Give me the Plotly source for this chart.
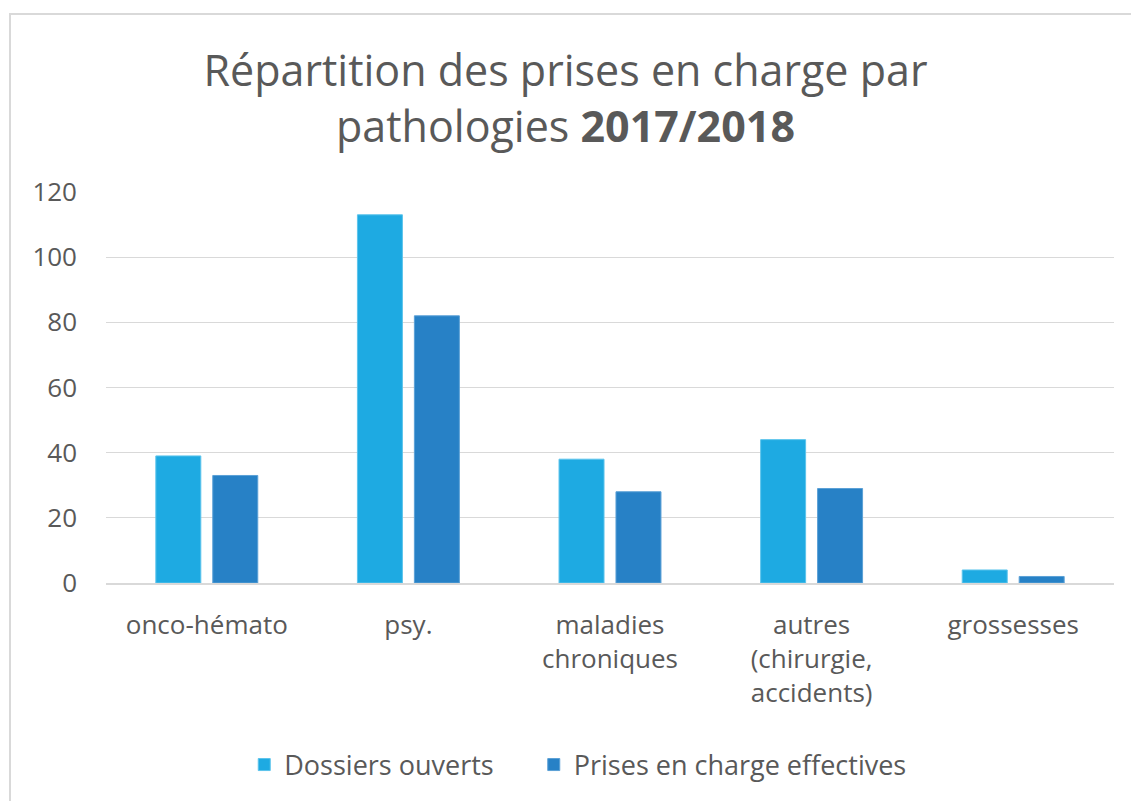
import plotly.graph_objects as go

categories = ["onco-hémato", "psy.", "maladies<br>chroniques", "autres<br>(chirurgie,<br>accidents)", "grossesses"]
dossiers_ouverts = [39, 113, 38, 44, 4]
prises_effectives = [33, 82, 28, 29, 2]
series_names = ["Dossiers ouverts", "Prises en charge effectives"]
y_ticks = [0, 20, 40, 60, 80, 100, 120]

FONT = "Open Sans"
GREY = "#595959"
PAD = "\u00a0" * 5

fig = go.Figure()
fig.add_trace(go.Bar(x=categories, y=dossiers_ouverts, name=series_names[0] + PAD,
                     marker=dict(color="#1EAAE2", line=dict(color="#5CC4EC", width=1))))
fig.add_trace(go.Bar(x=categories, y=prises_effectives, name=series_names[1],
                     marker=dict(color="#2781C6", line=dict(color="#5BA0D6", width=1))))

L, R, T, B = 106, 17, 192, 218
W, H = 1131, 801
pw, ph = W - L - R, H - T - B

fig.update_layout(
    width=W, height=H,
    margin=dict(l=L, r=R, t=T, b=B),
    paper_bgcolor="white", plot_bgcolor="white",
    barmode="group", bargap=0.435, bargroupgap=0.21,
    font=dict(family=FONT, color=GREY),
    title=dict(text="Répartition des prises en charge par<br>pathologies <b>2017/2018</b>",
               x=0.5, xanchor="center", y=(H - 86) / H, yanchor="middle",
               font=dict(size=43, color=GREY, family=FONT)),
    xaxis=dict(tickfont=dict(size=26, color=GREY), showline=True, linecolor="#D9D9D9",
               linewidth=2, ticks="", showgrid=False, ticklabelstandoff=18),
    yaxis=dict(range=[0, 120], tickvals=y_ticks, tickfont=dict(size=26, color=GREY),
               showgrid=True, gridcolor="#D9D9D9", gridwidth=1, zeroline=False,
               ticks="", showline=False, ticklabelstandoff=28),
    legend=dict(orientation="h", x=0.468, xanchor="center", y=-(765 - 583) / ph, yanchor="middle",
                font=dict(size=27, color=GREY), itemwidth=30),
    shapes=[dict(type="rect", xref="paper", yref="paper",
                 x0=(10 - L) / pw, x1=(W + 10 - L) / pw,
                 y0=-(H + 10 - (H - B)) / ph, y1=((H - B) - 14) / ph,
                 line=dict(color="#D9D9D9", width=2), fillcolor="rgba(0,0,0,0)", layer="below")],
)

fig.write_html("out.html", config={"displayModeBar": False},
               post_script="document.body.style.margin='0';")
